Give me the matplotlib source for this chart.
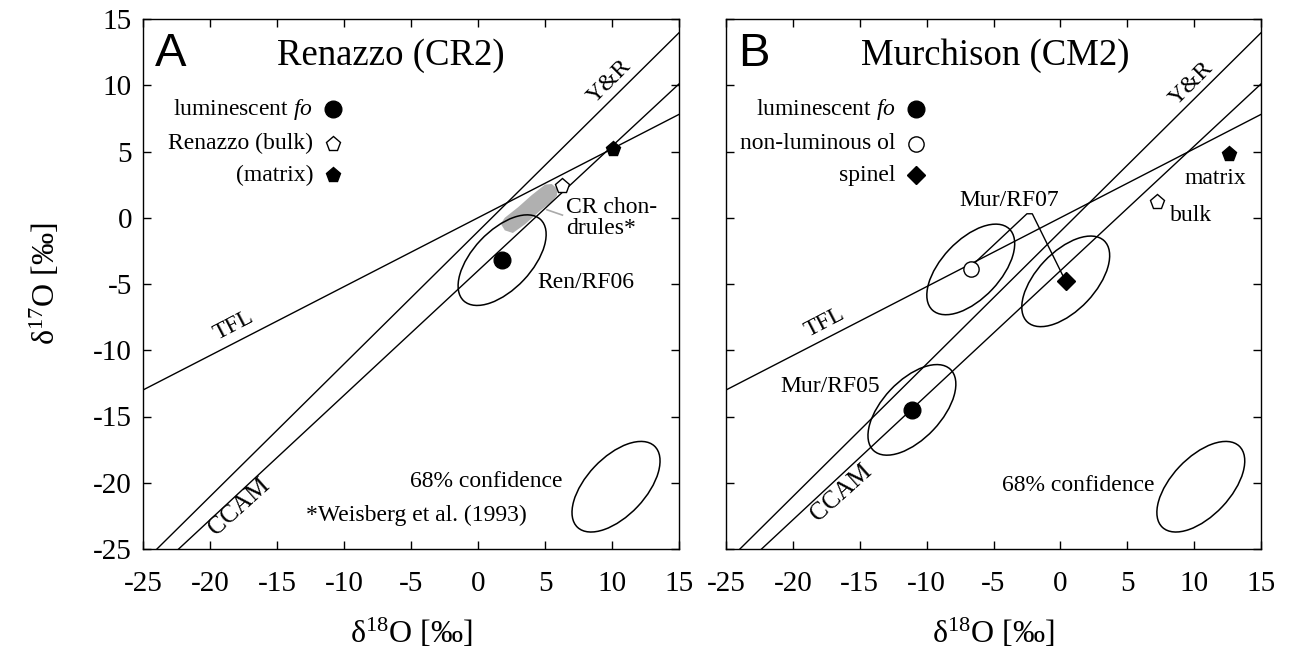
import numpy as np
import matplotlib
matplotlib.use("Agg")
import matplotlib.pyplot as plt
from matplotlib.patches import Ellipse, Polygon

plt.rcParams['font.family'] = ['Liberation Serif', 'DejaVu Serif']
plt.rcParams['mathtext.fontset'] = 'custom'
plt.rcParams['mathtext.rm'] = 'Liberation Serif'
plt.rcParams['mathtext.it'] = 'Liberation Serif:italic'

# --- reference lines (slope, intercept) ---
LINES = {'TFL': (0.52, 0.0), 'Y&R': (1.0, -1.04), 'CCAM': (0.94, -4.0)}

# --- Renazzo (panel A) ---
ren_fo = (1.8, -3.2)          # luminescent fo, Ren/RF06
ren_bulk = (6.3, 2.4)
ren_matrix = (10.1, 5.2)
# CR chondrules field (Weisberg et al. 1993), outline
cr_chondrules_x = [2.0, 2.6, 3.5, 4.6, 5.5, 5.9, 5.9, 5.5, 5.0, 4.0, 3.0, 2.0, 1.7]
cr_chondrules_y = [-0.95, -1.15, -0.5, 0.5, 1.2, 1.7, 2.2, 2.55, 2.5, 1.7, 0.8, 0.0, -0.45]

# --- Murchison (panel B) ---
mur_fo = (-11.1, -14.5)       # Mur/RF05
mur_ol = (-6.7, -3.9)         # Mur/RF07 non-luminous ol
mur_spinel = (0.4, -4.8)      # Mur/RF07 spinel
mur_bulk = (7.2, 1.2)
mur_matrix = (12.6, 4.8)

# 68% confidence ellipse (full width, full height, angle)
ELL_W, ELL_H, ELL_ANG = 8.4, 4.4, 47

XLIM = (-25, 15)
YLIM = (-25, 15)
TICKS = [-25, -20, -15, -10, -5, 0, 5, 10, 15]

fig = plt.figure(figsize=(12.91, 6.49), dpi=100)
axA = fig.add_axes([143 / 1291, 100 / 649, 536 / 1291, 530 / 649])
axB = fig.add_axes([726 / 1291, 100 / 649, 535 / 1291, 530 / 649])


def setup(ax, ylabels=True):
    ax.set_xlim(*XLIM)
    ax.set_ylim(*YLIM)
    ax.set_xticks(TICKS)
    ax.set_yticks(TICKS)
    ax.tick_params(direction='in', top=True, right=True, length=6, width=1,
                   labelsize=21, labelleft=ylabels)
    ax.tick_params(axis='x', pad=16)
    ax.tick_params(axis='y', pad=8)
    ax.set_xticklabels([str(t) for t in TICKS])
    if ylabels:
        ax.set_yticklabels([str(t) for t in TICKS])
    for s in ax.spines.values():
        s.set_linewidth(1.0)
    xs = np.array(XLIM)
    for name, (m, b) in LINES.items():
        ax.plot(xs, m * xs + b, color='black', lw=1.0, zorder=2)
    ax.set_xlabel('δ$^{18}$O [‰]', fontsize=23, labelpad=14)


def ellipse(ax, c):
    ax.add_patch(Ellipse(c, ELL_W, ELL_H, angle=ELL_ANG, fill=False,
                         ec='black', lw=1.1, zorder=3))


def legend(ax, rows):
    for (label, marker, fc, ms), y in zip(rows, [8.2, 5.6, 3.2]):
        ax.text(-12.3, y, label, ha='right', va='center', fontsize=17)
        ax.plot(-10.8, y, marker=marker, ms=ms, mfc=fc, mec='black', mew=1.0)


# ---------------- panel A ----------------
setup(axA)
axA.set_ylabel('δ$^{17}$O [‰]', fontsize=23, labelpad=22)
axA.text(0.022, 0.975, 'A', transform=axA.transAxes, ha='left', va='top',
         fontsize=34, family='Liberation Sans')
axA.text(-6.5, 12.2, 'Renazzo (CR2)', ha='center', va='center', fontsize=26.5)
legend(axA, [('luminescent $\\mathit{fo}$', 'o', 'black', 12),
             ('Renazzo (bulk)', 'p', 'white', 11),
             ('(matrix)', 'p', 'black', 11)])

axA.add_patch(Polygon(np.column_stack([cr_chondrules_x, cr_chondrules_y]),
                      closed=True, fc='#b0b0b0', ec='none', zorder=1))
axA.plot([5.15, 6.3], [0.6, 0.2], color='#aaaaaa', lw=1.2, zorder=1)
ellipse(axA, ren_fo)
ellipse(axA, (10.3, -20.3))
axA.plot(*ren_fo, 'o', ms=12, mfc='black', mec='black', zorder=5)
axA.plot(*ren_bulk, 'p', ms=11, mfc='white', mec='black', mew=1.0, zorder=5)
axA.plot(*ren_matrix, 'p', ms=11, mfc='black', mec='black', zorder=5)

axA.text(6.6, 0.8, 'CR chon-', ha='left', va='center', fontsize=17)
axA.text(6.6, -0.8, 'drules*', ha='left', va='center', fontsize=17)
axA.text(4.4, -4.9, 'Ren/RF06', ha='left', va='center', fontsize=17)
axA.text(-18.2, -8.1, 'TFL', ha='center', va='center', fontsize=17, rotation=27.5)
axA.text(-17.8, -21.8, 'CCAM', ha='center', va='center', fontsize=18, rotation=42)
axA.text(9.8, 10.3, 'Y&R', ha='center', va='center', fontsize=17.5, rotation=45)
axA.text(6.3, -19.9, '68% confidence', ha='right', va='center', fontsize=17)
axA.text(-12.8, -22.5, '*Weisberg et al. (1993)', ha='left', va='center', fontsize=17)

# ---------------- panel B ----------------
setup(axB, ylabels=False)
axB.text(0.022, 0.975, 'B', transform=axB.transAxes, ha='left', va='top',
         fontsize=34, family='Liberation Sans')
axB.text(-4.9, 12.2, 'Murchison (CM2)', ha='center', va='center', fontsize=26.5)
legend(axB, [('luminescent $\\mathit{fo}$', 'o', 'black', 12),
             ('non-luminous ol', 'o', 'white', 11),
             ('spinel', 'D', 'black', 9.5)])

for c in (mur_fo, mur_ol, mur_spinel):
    ellipse(axB, c)
ellipse(axB, (10.5, -20.3))
axB.plot([mur_ol[0] + 0.3, -2.5, -2.1, mur_spinel[0] - 0.2],
         [mur_ol[1] + 0.5, 0.3, 0.3, mur_spinel[1] + 0.4],
         color='black', lw=1.0, zorder=3)
axB.plot(*mur_fo, 'o', ms=12, mfc='black', mec='black', zorder=5)
axB.plot(*mur_ol, 'o', ms=11, mfc='white', mec='black', mew=1.0, zorder=5)
axB.plot(*mur_spinel, 'D', ms=9.5, mfc='black', mec='black', zorder=5)
axB.plot(*mur_bulk, 'p', ms=11, mfc='white', mec='black', mew=1.0, zorder=5)
axB.plot(*mur_matrix, 'p', ms=11, mfc='black', mec='black', zorder=5)

axB.text(11.6, 3.0, 'matrix', ha='center', va='center', fontsize=17)
axB.text(9.8, 0.2, 'bulk', ha='center', va='center', fontsize=17)
axB.text(-3.8, 1.3, 'Mur/RF07', ha='center', va='center', fontsize=17)
axB.text(-17.2, -12.7, 'Mur/RF05', ha='center', va='center', fontsize=17)
axB.text(-17.6, -7.9, 'TFL', ha='center', va='center', fontsize=17, rotation=27.5)
axB.text(-16.4, -20.8, 'CCAM', ha='center', va='center', fontsize=18, rotation=42)
axB.text(9.8, 10.1, 'Y&R', ha='center', va='center', fontsize=17.5, rotation=45)
axB.text(7.0, -20.2, '68% confidence', ha='right', va='center', fontsize=17)

fig.savefig('out.png', dpi=100)
